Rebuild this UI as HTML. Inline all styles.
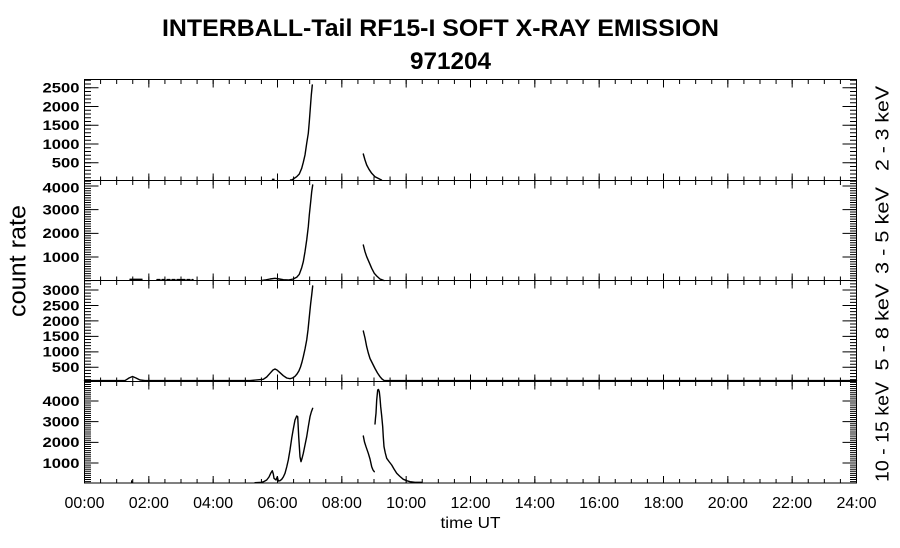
<!DOCTYPE html>
<html>
<head>
<meta charset="utf-8">
<style>
  html,body{margin:0;padding:0;background:#fff;}
  svg{display:block;}
  text{font-family:"Liberation Sans",Arial,sans-serif;fill:#000;}
</style>
</head>
<body>
<svg width="900" height="548" viewBox="0 0 900 548" xmlns="http://www.w3.org/2000/svg">
  <rect x="0" y="0" width="900" height="548" fill="#fff"/>

  <!-- Title -->
  <text x="162" y="36" font-size="24" font-weight="bold" textLength="557" lengthAdjust="spacingAndGlyphs">INTERBALL-Tail RF15-I SOFT X-RAY EMISSION</text>
  <text x="410" y="69" font-size="24" font-weight="bold" textLength="81" lengthAdjust="spacingAndGlyphs">971204</text>

  <!-- Frames -->
  <g fill="none" stroke="#000" stroke-width="1">
    <rect x="84.5" y="79.5" width="772" height="403.5"/>
    <line x1="84.5" y1="180.5" x2="856.5" y2="180.5"/>
    <line x1="84.5" y1="280.5" x2="856.5" y2="280.5"/>
    <line x1="84.5" y1="381.5" x2="856.5" y2="381.5"/>
  </g>

  <!-- X ticks -->
  <g stroke="#000" fill="none">
    <line x1="84" y1="81.75" x2="857" y2="81.75" stroke-width="4.5" stroke-dasharray="1 15.0833"/>
    <line x1="84" y1="83.5" x2="857" y2="83.5" stroke-width="8" stroke-dasharray="1 63.3333"/>
    <line x1="84" y1="178.5" x2="857" y2="178.5" stroke-width="4" stroke-dasharray="1 15.0833"/>
    <line x1="84" y1="177" x2="857" y2="177" stroke-width="7" stroke-dasharray="1 63.3333"/>
    <line x1="84" y1="182.75" x2="857" y2="182.75" stroke-width="4.5" stroke-dasharray="1 15.0833"/>
    <line x1="84" y1="184.5" x2="857" y2="184.5" stroke-width="8" stroke-dasharray="1 63.3333"/>
    <line x1="84" y1="278.5" x2="857" y2="278.5" stroke-width="4" stroke-dasharray="1 15.0833"/>
    <line x1="84" y1="277" x2="857" y2="277" stroke-width="7" stroke-dasharray="1 63.3333"/>
    <line x1="84" y1="282.75" x2="857" y2="282.75" stroke-width="4.5" stroke-dasharray="1 15.0833"/>
    <line x1="84" y1="284.5" x2="857" y2="284.5" stroke-width="8" stroke-dasharray="1 63.3333"/>
    <line x1="84" y1="379.5" x2="857" y2="379.5" stroke-width="4" stroke-dasharray="1 15.0833"/>
    <line x1="84" y1="378" x2="857" y2="378" stroke-width="7" stroke-dasharray="1 63.3333"/>
    <line x1="84" y1="383.75" x2="857" y2="383.75" stroke-width="4.5" stroke-dasharray="1 15.0833"/>
    <line x1="84" y1="385.5" x2="857" y2="385.5" stroke-width="8" stroke-dasharray="1 63.3333"/>
    <line x1="84" y1="481" x2="857" y2="481" stroke-width="4" stroke-dasharray="1 15.0833"/>
    <line x1="84" y1="479.5" x2="857" y2="479.5" stroke-width="7" stroke-dasharray="1 63.3333"/>
  </g>

  <!-- Y ticks left -->
  <g stroke="#000" fill="none">
    <line x1="87.75" y1="178.2" x2="87.75" y2="79.7" stroke-width="6.5" stroke-dasharray="1 2.75"/>
    <line x1="91.5" y1="163.2" x2="91.5" y2="87.2" stroke-width="14" stroke-dasharray="1 17.75"/>
    <line x1="87.75" y1="278.8" x2="87.75" y2="180.76" stroke-width="6.5" stroke-dasharray="1 1.367"/>
    <line x1="91.5" y1="257.5" x2="91.5" y2="185.5" stroke-width="14" stroke-dasharray="1 22.667"/>
    <line x1="87.75" y1="380.17" x2="87.75" y2="280.22" stroke-width="6.5" stroke-dasharray="1 2.092"/>
    <line x1="91.5" y1="367.8" x2="91.5" y2="289.5" stroke-width="14" stroke-dasharray="1 14.46"/>
    <line x1="87.75" y1="482.1" x2="87.75" y2="381.9" stroke-width="6.5" stroke-dasharray="1 1.067"/>
    <line x1="91.5" y1="463.5" x2="91.5" y2="400.5" stroke-width="14" stroke-dasharray="1 19.667"/>
  </g>
  <!-- Y ticks right -->
  <g stroke="#000" fill="none">
    <line x1="853.25" y1="178.2" x2="853.25" y2="79.7" stroke-width="6.5" stroke-dasharray="1 2.75"/>
    <line x1="849.5" y1="163.2" x2="849.5" y2="87.2" stroke-width="14" stroke-dasharray="1 17.75"/>
    <line x1="853.25" y1="278.8" x2="853.25" y2="180.76" stroke-width="6.5" stroke-dasharray="1 1.367"/>
    <line x1="849.5" y1="257.5" x2="849.5" y2="185.5" stroke-width="14" stroke-dasharray="1 22.667"/>
    <line x1="853.25" y1="380.17" x2="853.25" y2="280.22" stroke-width="6.5" stroke-dasharray="1 2.092"/>
    <line x1="849.5" y1="367.8" x2="849.5" y2="289.5" stroke-width="14" stroke-dasharray="1 14.46"/>
    <line x1="853.25" y1="482.1" x2="853.25" y2="381.9" stroke-width="6.5" stroke-dasharray="1 1.067"/>
    <line x1="849.5" y1="463.5" x2="849.5" y2="400.5" stroke-width="14" stroke-dasharray="1 19.667"/>
  </g>

  <!-- Y tick labels -->
  <g font-size="13.5" font-weight="bold">
    <text x="42.5" y="92.5" textLength="37" lengthAdjust="spacingAndGlyphs">2500</text>
    <text x="42.5" y="111.3" textLength="37" lengthAdjust="spacingAndGlyphs">2000</text>
    <text x="42.5" y="130" textLength="37" lengthAdjust="spacingAndGlyphs">1500</text>
    <text x="42.5" y="148.8" textLength="37" lengthAdjust="spacingAndGlyphs">1000</text>
    <text x="51.8" y="167.5" textLength="27.7" lengthAdjust="spacingAndGlyphs">500</text>

    <text x="42.5" y="192.5" textLength="37" lengthAdjust="spacingAndGlyphs">4000</text>
    <text x="42.5" y="214.5" textLength="37" lengthAdjust="spacingAndGlyphs">3000</text>
    <text x="42.5" y="238.2" textLength="37" lengthAdjust="spacingAndGlyphs">2000</text>
    <text x="42.5" y="261.8" textLength="37" lengthAdjust="spacingAndGlyphs">1000</text>

    <text x="42.5" y="294.8" textLength="37" lengthAdjust="spacingAndGlyphs">3000</text>
    <text x="42.5" y="310.3" textLength="37" lengthAdjust="spacingAndGlyphs">2500</text>
    <text x="42.5" y="325.8" textLength="37" lengthAdjust="spacingAndGlyphs">2000</text>
    <text x="42.5" y="341.2" textLength="37" lengthAdjust="spacingAndGlyphs">1500</text>
    <text x="42.5" y="356.7" textLength="37" lengthAdjust="spacingAndGlyphs">1000</text>
    <text x="51.8" y="372.1" textLength="27.7" lengthAdjust="spacingAndGlyphs">500</text>

    <text x="42.5" y="405.8" textLength="37" lengthAdjust="spacingAndGlyphs">4000</text>
    <text x="42.5" y="426.5" textLength="37" lengthAdjust="spacingAndGlyphs">3000</text>
    <text x="42.5" y="447.2" textLength="37" lengthAdjust="spacingAndGlyphs">2000</text>
    <text x="42.5" y="467.8" textLength="37" lengthAdjust="spacingAndGlyphs">1000</text>
  </g>

  <!-- X tick labels -->
  <g font-size="16" text-anchor="middle">
    <text x="84.5" y="508">00:00</text>
    <text x="148.83" y="508">02:00</text>
    <text x="213.17" y="508">04:00</text>
    <text x="277.5" y="508">06:00</text>
    <text x="341.83" y="508">08:00</text>
    <text x="406.17" y="508">10:00</text>
    <text x="470.5" y="508">12:00</text>
    <text x="534.83" y="508">14:00</text>
    <text x="599.17" y="508">16:00</text>
    <text x="663.5" y="508">18:00</text>
    <text x="727.83" y="508">20:00</text>
    <text x="792.17" y="508">22:00</text>
    <text x="856.5" y="508">24:00</text>
  </g>
  <text x="470.5" y="528" font-size="16" text-anchor="middle" textLength="60" lengthAdjust="spacingAndGlyphs">time UT</text>

  <!-- Left axis title -->
  <text transform="translate(25.5,261) rotate(-90)" font-size="24" text-anchor="middle" textLength="112" lengthAdjust="spacingAndGlyphs">count rate</text>

  <!-- Right panel labels -->
  <g font-size="18" text-anchor="middle">
    <text transform="translate(888.5,128.5) rotate(-90)" textLength="85" lengthAdjust="spacingAndGlyphs">2 - 3 keV</text>
    <text transform="translate(888.5,230.5) rotate(-90)" textLength="87" lengthAdjust="spacingAndGlyphs">3 - 5 keV</text>
    <text transform="translate(888.5,327) rotate(-90)" textLength="87" lengthAdjust="spacingAndGlyphs">5 - 8 keV</text>
    <text transform="translate(888.5,432) rotate(-90)" textLength="100" lengthAdjust="spacingAndGlyphs">10 - 15 keV</text>
  </g>

  <!-- DATA -->
  <g fill="none" stroke="#000" stroke-width="1.4" stroke-linejoin="round" stroke-linecap="round">
    <!-- Panel 1 -->
    <line x1="272.5" y1="179.3" x2="274" y2="179.3"/>
    <polyline points="290.5,180 291.7,180 293.3,179 296.7,176.7 299.3,174 301.7,168.3 303.3,162.3 305,155 306.7,143.3 308.3,133.3 309.3,121.7 310.3,108.3 311.3,95 312.3,85"/>
    <polyline points="363.3,154 365,160 366.7,165 369,169.3 371.7,173.3 375,176.7 380,179.3 381.5,180"/>

    <!-- Panel 2 -->
    <polyline points="130,279.3 142,279.3"/>
    <polyline points="157,279.6 193,279.6" stroke-dasharray="3 2"/>
    <polyline points="262,280.5 265,280 270,279 275,278.3 279.3,279 283.3,279.7 288.3,280 293.3,279 296.7,277.3 299.3,274.3 301.7,267.7 303.3,261.7 305,251.7 306.7,240 308.3,226.7 309.3,215 310.7,201.7 311.7,191.7 312.7,185"/>
    <polyline points="363.3,245 365,251.7 366.7,256.7 369.3,262.7 371.7,268.3 374.3,273.3 376.7,276 380,279 384,280.5"/>

    <!-- Panel 3 -->
    <polyline points="84.5,380.6 125,380.6 129,378 132.5,376.5 136,378 140,380 145,380.6 250,380.6 263.3,379.3 266.7,377 270,373.3 273,370 275,369 277,370 280,372.7 283.3,375.7 286.7,378 290,378.7 292.5,378 295,376.3 297,374 299,370.7 300.5,367 302,362 303.3,356.7 305,349 306.7,340 308,330 309,320 310,310 310.7,303.3 311.7,295 312.7,286"/>
    <polyline points="363.3,331 365,338 366.7,346.7 368.3,353 370,358.5 372.5,363.5 375,368.5 377.5,373 380,376.7 382,379 384,380.4 390,380.6 856.5,380.6"/>

    <!-- Panel 4 -->
    <line x1="131.7" y1="482.5" x2="131.7" y2="481"/>
    <polyline points="255,482.7 261.7,482.3 264,481.5 266.7,480 269,477 270.7,473.3 272.3,470.7 273.3,474 274,478.3 276,480 277.3,476.7 278.3,481 280,480.7 281.7,479.3 283.3,477 285,473.3 286.7,467 288.3,460 290,450 291.7,438.3 293.3,429 295,420 296.7,416 297.7,416.7 298.7,436.7 300,456.7 301,461.7 302,458.5 303.3,453.3 305,445 306.7,436.7 308.3,426.7 310,416.7 311.3,412 312.7,408.3"/>
    <polyline points="363.3,436 364.5,442 366,446.7 368.3,453.3 370,459 371.7,466.7 373,470 374.3,471.7"/>
    <polyline points="375,424 375.5,418 376,413.3 376.7,400 377.2,395 377.7,390 378.5,389.5 379.3,391.7 380,398 380.7,406.7 381.7,416 382.7,426.7 383.3,437 384,446.7 385.3,453 386.7,458.3 389,461.5 391.7,465 394,469 396.7,473.3 400,476.5 403.3,479.3 406.7,480.7 410,481.7 415,482.3 421.7,482.3"/>
  </g>
</svg>
</body>
</html>
